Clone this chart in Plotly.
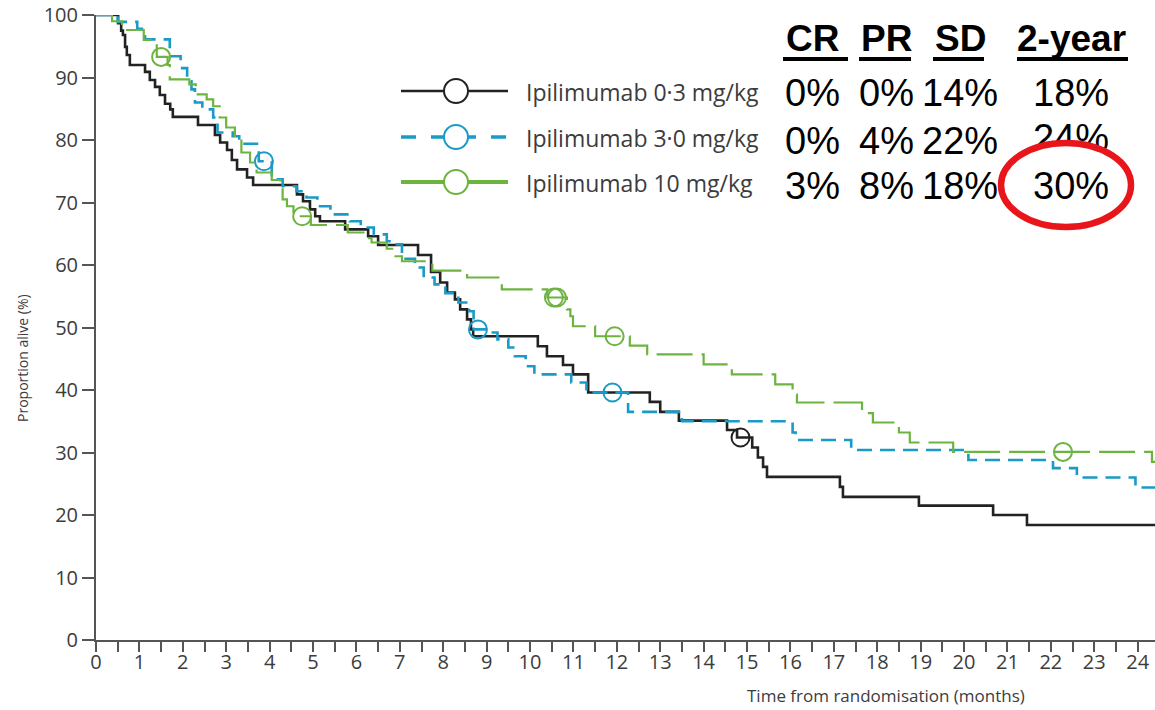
import plotly.graph_objects as go

# ---- Kaplan-Meier data (event times in months, survival in %) ----
follow_up_end = 24.4

black_name = "Ipilimumab 0·3 mg/kg"
black_t = [0.51, 0.58, 0.62, 0.67, 0.71, 0.78, 1.13, 1.24, 1.36, 1.47, 1.59, 1.71, 1.77,
           2.35, 2.74, 2.86, 3.02, 3.13, 3.25, 3.48, 3.62, 4.63, 4.77, 4.93, 5.05, 5.16,
           5.74, 6.27, 6.50, 7.42, 7.72, 7.93, 8.09, 8.27, 8.39, 8.55, 8.64, 8.69, 10.18,
           10.39, 10.76, 10.99, 11.34, 12.76, 13.00, 13.43, 14.54, 14.77, 15.12, 15.25,
           15.37, 15.46, 17.14, 17.21, 18.96, 20.67, 21.45]
black_s = [98.7, 97.5, 96.8, 94.9, 93.6, 92.0, 90.9, 89.6, 88.5, 87.2, 85.8, 84.9, 83.7,
           82.4, 80.8, 79.6, 78.4, 76.8, 75.3, 74.0, 72.8, 71.3, 70.2, 68.9, 67.8, 67.0,
           65.7, 64.6, 63.2, 61.6, 58.9, 57.2, 55.6, 54.5, 52.9, 51.3, 49.7, 48.6, 47.0,
           45.4, 44.0, 42.5, 39.6, 38.1, 36.5, 35.1, 33.6, 32.4, 30.8, 29.2,
           27.7, 26.1, 24.5, 22.9, 21.5, 20.0, 18.4]
black_cens = [14.85]

blue_name = "Ipilimumab 3·0 mg/kg"
blue_t = [0.50, 0.95, 1.13, 1.70, 1.95, 2.10, 2.20, 2.28, 2.45, 2.70, 2.80, 3.15, 3.30,
          3.75, 4.05, 4.30, 4.62, 4.85, 5.10, 5.40, 5.85, 6.10, 6.40, 6.70, 6.85, 7.05,
          7.35, 7.55, 7.80, 8.05, 8.35, 8.60, 8.70, 9.10, 9.25, 9.50, 9.65, 9.90, 10.10,
          10.95, 11.30, 12.26, 13.50, 16.05, 16.12, 17.40, 20.10, 22.05, 22.60, 23.95]
blue_s = [98.9, 97.8, 96.1, 93.4, 91.5, 89.4, 88.1, 86.0, 84.9, 83.6, 81.2, 80.6, 79.4,
          76.6, 73.7, 72.6, 71.8, 70.8, 69.4, 68.1, 67.0, 66.0, 64.9, 63.8, 63.3, 61.0,
          59.6, 58.0, 56.9, 55.5, 54.0, 52.6, 49.7, 49.2, 48.1, 46.8, 45.4, 43.8, 42.5,
          41.2, 39.6, 36.5, 35.0, 33.2, 32.0, 30.4, 28.8, 27.5, 26.0, 24.4]
blue_cens = [3.87, 8.80, 11.90]

green_name = "Ipilimumab 10 mg/kg"
green_t = [0.37, 0.60, 1.10, 1.40, 1.65, 1.70, 2.15, 2.30, 2.55, 2.70, 2.85, 3.00, 3.20,
           3.35, 3.55, 3.70, 4.05, 4.25, 4.30, 4.40, 4.55, 4.95, 5.80, 6.20, 6.35, 6.70,
           6.90, 7.05, 7.75, 8.55, 9.35, 10.40, 10.85, 10.93, 10.99, 11.50, 12.30, 12.70,
           14.00, 14.65, 15.65, 16.05, 16.15, 17.65, 17.90, 18.50, 18.75, 19.75, 24.33]
green_s = [99.0, 97.6, 96.0, 93.3, 92.0, 89.7, 88.9, 87.3, 86.5, 85.4, 83.6, 82.0, 80.4,
           78.0, 76.4, 74.8, 73.6, 72.5, 70.5, 69.4, 67.8, 66.4, 65.2, 64.3, 63.6, 62.6,
           61.4, 60.6, 59.1, 58.0, 56.1, 54.8, 52.9, 51.8, 50.2, 48.6, 47.1, 45.7,
           44.1, 42.5, 40.9, 39.3, 38.0, 36.3, 34.8, 33.2, 31.6, 30.1, 28.5]
green_cens = [1.50, 4.75, 10.55, 10.62, 11.95, 22.28]

# response table
table_cols = ["CR", "PR", "SD", "2-year"]
table_rows = [
    ["0%", "0%", "14%", "18%"],
    ["0%", "4%", "22%", "24%"],
    ["3%", "8%", "18%", "30%"],
]

x_ticks = list(range(0, 25))
y_ticks = list(range(0, 101, 10))

# ---- styling ----
BLACK = "#222222"
BLUE = "#1b9ac8"
GREEN = "#6db33f"
AXIS = "#555555"
TXT = "#3c3c3c"
FONT = "Open Sans"

W, H = 1155, 710
ML, MR, MT, MB = 96, 0, 15, 70
PW, PH = W - ML - MR, H - MT - MB


def px(x):
    return (x - ML) / PW


def py(y):
    return (H - MB - y) / PH


def km_xy(t, s):
    return [0.0] + list(t) + [follow_up_end], [100.0] + list(s) + [s[-1]]


def surv_at(t, s, c):
    v = 100.0
    for ti, si in zip(t, s):
        if ti <= c:
            v = si
    return v


series = [
    (black_name, black_t, black_s, black_cens, BLACK, "solid", 2.6),
    (blue_name, blue_t, blue_s, blue_cens, BLUE, "15px,8px", 2.6),
    (green_name, green_t, green_s, green_cens, GREEN, "36px,9px", 2.2),
]

fig = go.Figure()
for name, t, s, cens, col, dash, lw in series:
    xs, ys = km_xy(t, s)
    fig.add_trace(go.Scatter(x=xs, y=ys, mode="lines", line=dict(shape="hv", color=col, width=lw, dash=dash),
                             name=name, showlegend=False, hoverinfo="skip"))
    fig.add_trace(go.Scatter(x=cens, y=[surv_at(t, s, c) for c in cens], mode="markers",
                             marker=dict(symbol="circle-open", size=18, color=col, line=dict(width=2, color=col)),
                             showlegend=False, hoverinfo="skip", cliponaxis=False))

# ---- legend (drawn by hand for long line keys) ----
shapes = []
annotations = []
leg_rows = [91, 137, 182]
for (name, t, s, cens, col, dash, lw), yrow in zip(series, leg_rows):
    key_dash = "15px,15px" if col == BLUE else "solid"
    key_w = 4 if col == GREEN else (3.5 if col == BLUE else 2.4)
    shapes.append(dict(type="line", xref="paper", yref="paper", x0=px(401), x1=px(508), y0=py(yrow), y1=py(yrow),
                       line=dict(color=col, width=key_w, dash=key_dash), layer="above"))
    shapes.append(dict(type="circle", xref="paper", yref="paper", x0=px(444), x1=px(468), y0=py(yrow + 12),
                       y1=py(yrow - 12), fillcolor="white", line=dict(color=col, width=2), layer="above"))
    annotations.append(dict(x=px(524), y=py(yrow + 1), xref="paper", yref="paper", text=name, showarrow=False,
                            xanchor="left", yanchor="middle", font=dict(family=FONT, size=23, color=TXT)))

# ---- response table ----
col_centers = [812, 886, 960, 1071]
underline = [(783, 848), (859, 911), (933, 984), (1017, 1128)]
for name, cx, (u0, u1) in zip(table_cols, col_centers, underline):
    annotations.append(dict(x=px(cx), y=py(38), xref="paper", yref="paper", text="<b>%s</b>" % name,
                            showarrow=False, xanchor="center", yanchor="middle",
                            font=dict(family="Liberation Sans", size=37, color="black")))
    shapes.append(dict(type="line", xref="paper", yref="paper", x0=px(u0), x1=px(u1), y0=py(59), y1=py(59),
                       line=dict(color="black", width=4)))

row_y = [93, 141, 186]
hidden_cells = []
for r, (vals, yrow) in enumerate(zip(table_rows, row_y)):
    for c, (v, cx) in enumerate(zip(vals, col_centers)):
        if r == 1 and c == 3:
            hidden_cells.append((v, cx, yrow))
            continue
        annotations.append(dict(x=px(cx), y=py(yrow), xref="paper", yref="paper", text=v, showarrow=False,
                                xanchor="center", yanchor="middle",
                                font=dict(family="Liberation Sans", size=38, color="black")))

# cell partly covered by the highlight ring is drawn as trace text (below shapes)
x_max = follow_up_end
for v, cx, yrow in hidden_cells:
    fig.add_trace(go.Scatter(x=[px(cx) * x_max], y=[py(yrow) * 100], mode="text", text=[v],
                             textposition="middle center", cliponaxis=False,
                             textfont=dict(family="Liberation Sans", size=38, color="black"),
                             showlegend=False, hoverinfo="skip"))

# red highlight ring around the 10 mg/kg 2-year value
shapes.append(dict(type="circle", xref="paper", yref="paper", x0=px(1001), x1=px(1131), y0=py(227), y1=py(143),
                   fillcolor="white", line=dict(color="#e8151b", width=6.5), layer="above"))

# axis titles
annotations.append(dict(x=px(886), y=py(695), xref="paper", yref="paper", text="Time from randomisation (months)",
                        showarrow=False, xanchor="center", yanchor="middle", font=dict(family=FONT, size=17, color=TXT)))
annotations.append(dict(x=px(22), y=py(358), xref="paper", yref="paper", text="Proportion alive (%)", textangle=-90,
                        showarrow=False, xanchor="center", yanchor="middle", font=dict(family=FONT, size=14, color=TXT)))

fig.update_layout(
    width=W, height=H, margin=dict(l=ML, r=MR, t=MT, b=MB),
    paper_bgcolor="white", plot_bgcolor="white",
    shapes=shapes, annotations=annotations, showlegend=False,
    xaxis=dict(range=[0, follow_up_end], tickvals=x_ticks, ticks="outside", ticklen=10, tickwidth=1.5,
               tickcolor=AXIS, showline=True, linecolor=AXIS, linewidth=2, showgrid=False, zeroline=False,
               tickfont=dict(family=FONT, size=20, color=TXT), ticklabelstandoff=-7,
               minor=dict(dtick=0.5, tick0=0, ticks="outside", ticklen=10, tickwidth=1.5, tickcolor=AXIS,
                          showgrid=False)),
    yaxis=dict(range=[0, 100], tickvals=y_ticks, ticks="outside", ticklen=12, tickwidth=1.5, tickcolor=AXIS,
               showline=True, linecolor=AXIS, linewidth=2, showgrid=False, zeroline=False,
               tickfont=dict(family=FONT, size=20, color=TXT)),
)

fig.write_html("out.html")
